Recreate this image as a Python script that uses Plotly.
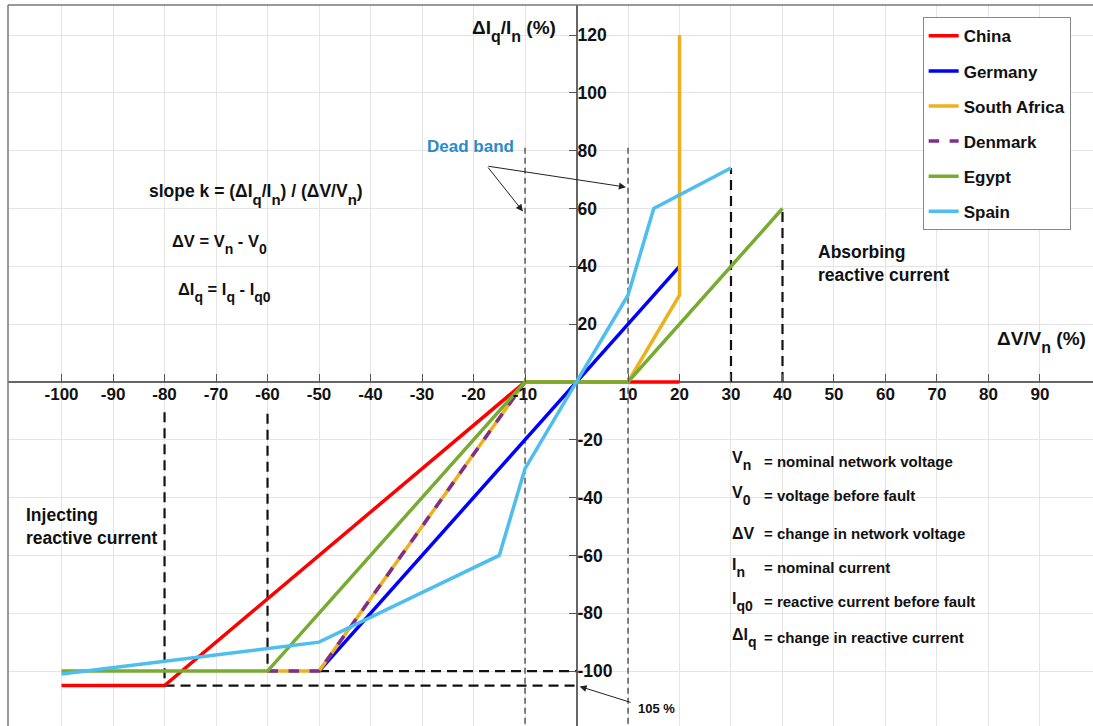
import plotly.graph_objects as go

# ---------------- data ----------------
china_x = [-100, -80, -10, 10, 20]
china_y = [-105, -105, 0, 0, 0]
germany_x = [-50, 20]
germany_y = [-100, 40]
safrica_x = [-60, -50, -10, 10, 20, 20]
safrica_y = [-100, -100, 0, 0, 30, 120]
denmark_x = [-60, -50, -10]
denmark_y = [-100, -100, 0]
egypt_x = [-100, -60, -10, 10, 40]
egypt_y = [-100, -100, 0, 0, 60]
spain_x = [-100, -50, -15, -10, 0, 10, 15, 30]
spain_y = [-101, -90, -60, -30, 0, 30, 60, 74]

x_ticks = [-100, -90, -80, -70, -60, -50, -40, -30, -20, -10,
           10, 20, 30, 40, 50, 60, 70, 80, 90]
y_ticks = [-100, -80, -60, -40, -20, 20, 40, 60, 80, 100, 120]

# guide lines (x0, y0, x1, y1)
thick_guides = [(-80, -10.5, -80, -105), (-60, -11, -60, -100),
                (30, 0, 30, 74), (40, 0, 40, 60),
                (-50, -100, 0, -100), (-80, -105, 0, -105)]
thin_guides = [(-10, 81, -10, -119), (10, 81, 10, -119)]

XR = [-110.4, 100.3]
YR = [-119.0, 130.4]

FONT = "Liberation Sans, Arial, sans-serif"

series = [
    ("China", china_x, china_y, "#FF0000", "solid"),
    ("Germany", germany_x, germany_y, "#0000FF", "solid"),
    ("South Africa", safrica_x, safrica_y, "#EDB120", "solid"),
    ("Denmark", denmark_x, denmark_y, "#7E2F8E", "dash"),
    ("Egypt", egypt_x, egypt_y, "#77AC30", "solid"),
    ("Spain", spain_x, spain_y, "#4DBEEE", "solid"),
]

fig = go.Figure()
for name, xs, ys, col, dash in series:
    fig.add_trace(go.Scatter(x=xs, y=ys, mode="lines", name=name,
                             legendgroup=name,
                             line=dict(color=col, width=3.5, dash=dash)))

shapes = []
for (x0, y0, x1, y1) in thick_guides:
    shapes.append(dict(type="line", x0=x0, y0=y0, x1=x1, y1=y1, xref="x", yref="y",
                       line=dict(color="#111", width=2.2, dash="10px,6px"), layer="between"))
for (x0, y0, x1, y1) in thin_guides:
    shapes.append(dict(type="line", x0=x0, y0=y0, x1=x1, y1=y1, xref="x", yref="y",
                       line=dict(color="#333", width=1.2, dash="6px,4px"), layer="between"))
# frame (left & top)
shapes.append(dict(type="line", xref="paper", yref="paper", x0=0, y0=0, x1=0, y1=1,
                   line=dict(color="#777", width=1.5)))
shapes.append(dict(type="line", xref="paper", yref="paper", x0=0, y0=1, x1=1, y1=1,
                   line=dict(color="#777", width=1.5)))


def S(t, px=14):
    return f"<sub><span style='font-size:{px}px;baseline-shift:-4px'>{t}</span></sub>"


ann = []
def txt(x, y, t, size=16, color="#111", **kw):
    ann.append(dict(x=x, y=y, xref="x", yref="y", text=t, showarrow=False,
                    xanchor="left", yanchor="middle", align="left",
                    font=dict(family=FONT, size=size, color=color, weight="bold"), **kw))

txt(-20.6, 121.5, "ΔI" + S("q", 16) + "/I" + S("n", 16) + " (%)", size=19)
txt(81.3, 14.0, "ΔV/V" + S("n", 16) + " (%)", size=19)
txt(-83.4, 65.0, "slope k = (ΔI" + S("q", 15) + "/I" + S("n", 15) + ") / (ΔV/V" + S("n", 15) + ")", size=17.5)
txt(-79.0, 47.5, "ΔV = V" + S("n", 14) + " - V" + S("0", 14), size=16.5)
txt(-77.8, 31.0, "ΔI" + S("q", 14) + " = I" + S("q", 14) + " - I" + S("q0", 14), size=16.5)
txt(46.5, 41, "Absorbing<br>reactive current", size=17.5)
txt(-107.3, -50, "Injecting<br>reactive current", size=17.5)
txt(-29.4, 81.6, "Dead band", size=17, color="#2A8BCB")

defs = [("V" + S("n"), "= nominal network voltage", -27.5),
        ("V" + S("0"), "= voltage before fault", -39.3),
        ("ΔV", "= change in network voltage", -52.4),
        ("I" + S("n"), "= nominal current", -64.2),
        ("I" + S("q0"), "= reactive current before fault", -76.0),
        ("ΔI" + S("q"), "= change in reactive current", -88.4)]
for sym, desc, yy in defs:
    txt(29.8, yy, sym, size=16)
    txt(36.0, yy, desc, size=15)

ann.append(dict(x=11.6, y=-112.8, xref="x", yref="y", text="105 %", showarrow=False,
                xanchor="left", yanchor="middle",
                font=dict(family=FONT, size=13, color="#111")))

def arrow(xt, yt, xh, yh):
    ann.append(dict(x=xh, y=yh, ax=xt, ay=yt, xref="x", yref="y", axref="x", ayref="y",
                    text="", showarrow=True, arrowhead=2, arrowsize=1.4,
                    arrowwidth=1, arrowcolor="#222"))

arrow(-17.4, 74.7, 9.6, 67.4)
arrow(-17.4, 74.7, -10.4, 59.0)
arrow(10.8, -111, 0.6, -105.3)

xpos = (0 - YR[0]) / (YR[1] - YR[0])
ypos = (0 - XR[0]) / (XR[1] - XR[0])

fig.update_layout(
    width=1093, height=726,
    margin=dict(l=8, r=0, t=5, b=0),
    paper_bgcolor="white", plot_bgcolor="white",
    font=dict(family=FONT, size=16, color="#111", weight="bold"),
    shapes=shapes, annotations=ann,
    showlegend=True,
    legend=dict(x=0.843, y=0.983, xanchor="left", yanchor="top",
                bgcolor="white", bordercolor="#888", borderwidth=1,
                tracegroupgap=10,
                font=dict(family=FONT, size=17, color="#111", weight="bold")),
    xaxis=dict(range=XR, anchor="free", position=xpos, side="bottom",
               tickvals=x_ticks, ticktext=[str(v) for v in x_ticks],
               ticks="inside", ticklen=8, tickcolor="#555",
               showgrid=True, gridcolor="#E4E4E4", gridwidth=1,
               zeroline=True, zerolinecolor="#666", zerolinewidth=1.5,
               showline=False,
               tickfont=dict(family=FONT, size=17, color="#111", weight="bold")),
    yaxis=dict(range=YR, anchor="free", position=ypos, side="right",
               tickvals=y_ticks, ticktext=[str(v) for v in y_ticks],
               ticks="inside", ticklen=8, tickcolor="#555",
               showgrid=True, gridcolor="#E4E4E4", gridwidth=1,
               zeroline=True, zerolinecolor="#666", zerolinewidth=1.5,
               showline=False,
               tickfont=dict(family=FONT, size=17.5, color="#111", weight="bold")),
)

fig.write_html("out.html")
